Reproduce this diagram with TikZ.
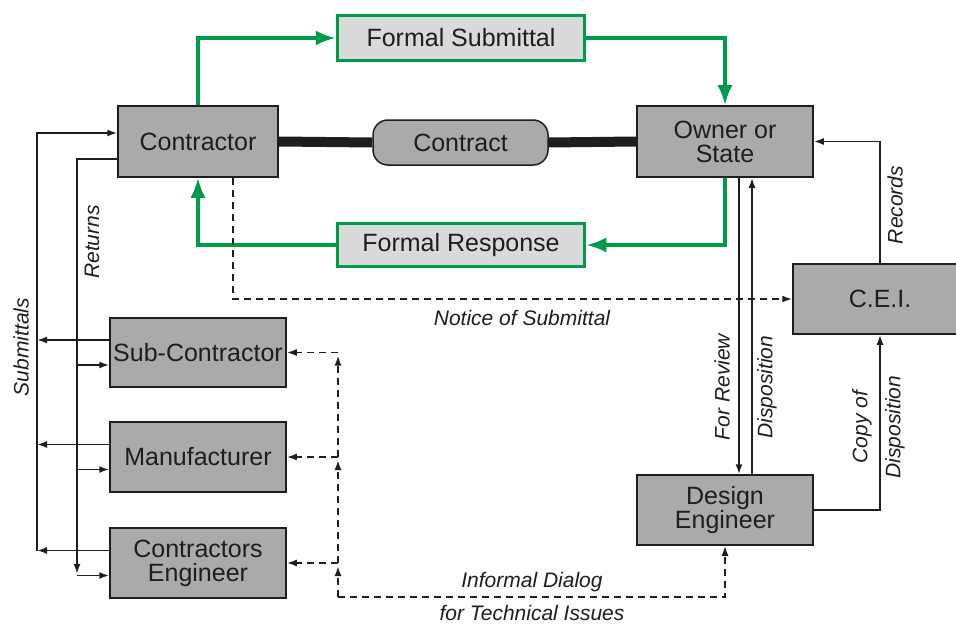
\documentclass[tikz,border=0pt]{standalone}
\usepackage{fontspec}
\setmainfont{Liberation Sans}
\usetikzlibrary{arrows.meta}
\definecolor{boxgray}{RGB}{170,170,170}
\definecolor{lightgray2}{RGB}{218,218,218}
\definecolor{grn}{RGB}{0,155,72}
\definecolor{ink}{RGB}{30,30,30}
\tikzset{
  box/.style={draw=ink, line width=1.5pt, fill=boxgray, inner sep=0pt, align=center,
    font=\fontsize{25}{24}\selectfont, text=ink},
  fbox/.style={draw=grn, line width=3.5pt, fill=lightgray2, inner sep=0pt, align=center,
    font=\fontsize{25}{24}\selectfont, text=ink},
  lab/.style={font=\itshape\fontsize{21}{26}\selectfont, text=ink, inner sep=0pt},
  conn/.style={draw=ink, line width=1.9pt, -{Latex[length=10pt,width=7pt]}},
  dconn/.style={conn, dash pattern=on 7pt off 5pt},
  gconn/.style={draw=grn, line width=3.5pt, -{Latex[length=20pt,width=15pt]}},
}
\begin{document}
\begin{tikzpicture}[x=1pt,y=-1pt]
\useasboundingbox (0,0) rectangle (956,626);
\clip (0,0) rectangle (956,626);
\fill[white] (0,0) rectangle (956,626);

% nodes
\node[box, minimum width=160pt, minimum height=71pt] (contr) at (198,141.5) {Contractor};
\node[box, minimum width=176pt, minimum height=71pt] (owner) at (725,141.5) {Owner or\\State};
\node[fbox, minimum width=247pt, minimum height=45pt] (fs) at (461,38) {Formal Submittal};
\node[fbox, minimum width=247pt, minimum height=43pt] (fr) at (461,245) {Formal Response};
\node[box, rounded corners=15pt, minimum width=175pt, minimum height=45pt] (contract) at (460.5,142.5) {Contract};
\node[box, minimum width=174pt, minimum height=70pt] (cei) at (880,299) {C.E.I.};
\node[box, minimum width=176pt, minimum height=70pt] (de) at (725,510) {Design\\Engineer};
\node[box, minimum width=176pt, minimum height=69pt] (sub) at (198,352.5) {Sub-Contractor};
\node[box, minimum width=176pt, minimum height=70pt] (man) at (198,457) {Manufacturer};
\node[box, minimum width=176pt, minimum height=70pt] (ce) at (198,563) {Contractors\\Engineer};

% contract line
\draw[ink, line width=10pt] (contr.east) -- (contract.west);
\draw[ink, line width=10pt] (contract.east) -- (owner.west);

% green formal flow
\draw[gconn] (contr.north) |- (fs.west);
\draw[gconn] (fs.east) -| (owner.north);
\draw[gconn] (owner.south) |- (fr.east);
\draw[gconn] (fr.west) -| (contr.south);

% notice of submittal
\draw[dconn] ([xshift=35pt]contr.south) |- (cei.west);

% owner <-> design engineer
\draw[conn] ([xshift=14pt]owner.south) -- ([xshift=14pt]de.north);
\draw[conn] ([xshift=27pt]de.north) -- ([xshift=27pt]owner.south);

% records and copy of disposition
\draw[conn] (cei.north) |- (owner.east);
\draw[conn] (de.east) -| (cei.south);

% submittals (left bus)
\coordinate (sx) at (37,133);
\coordinate (rx) at (77,159);
\draw[conn] ([yshift=12.5pt]sub.west) -- ([yshift=12.5pt]sub.west -| sx);
\draw[conn] ([yshift=12.5pt]man.west) -- ([yshift=12.5pt]man.west -| sx);
\draw[conn] ([yshift=12.5pt]ce.west) -- ([yshift=12.5pt]ce.west -| sx);
\draw[conn] ([yshift=12.5pt]ce.west -| sx) |- ([yshift=8.5pt]contr.west);

% returns
\draw[conn] ([yshift=-17.5pt]contr.west) -| ([yshift=-11pt]ce.west -| rx);
\draw[conn] ([yshift=-12.5pt]ce.west -| rx) -- ([yshift=-12.5pt]ce.west);
\draw[conn] ([yshift=-12.5pt]sub.west -| rx) -- ([yshift=-12.5pt]sub.west);
\draw[conn] ([yshift=-12.5pt]man.west -| rx) -- ([yshift=-12.5pt]man.west);

% informal dialog
\coordinate (dj) at (338,597);
\draw[dconn] (dj) -| (de.south);
\draw[dconn] (dj) -- ([yshift=-3pt]dj |- ce.east);
\draw[dconn] (dj |- ce.east) -- ([yshift=-3pt]dj |- man.east);
\draw[dconn] (dj |- man.east) -- ([yshift=-3pt]dj |- sub.east);
\draw[dconn] (dj |- sub.east) -- (sub.east);
\draw[dconn] (dj |- man.east) -- (man.east);
\draw[dconn] (dj |- ce.east) -- (ce.east);

% labels
\node[lab, rotate=90] (lsub) at (21,347) {Submittals};
\node[lab, rotate=90] (lret) at (92,242) {Returns};
\node[lab] (lnot) at (522,318) {Notice of Submittal};
\node[lab, rotate=90] (lrev) at (722,387) {For Review};
\node[lab, rotate=90] (ldis) at (767,387) {Disposition};
\node[lab, rotate=90] (lrec) at (895,205) {Records};
\node[lab, rotate=90, align=center, font=\itshape\fontsize{21}{33}\selectfont] (lcopy) at (878.5,427) {Copy of\\Disposition};
\node[lab] (linf1) at (532,582) {Informal Dialog};
\node[lab] (linf2) at (532,613) {for Technical Issues};
\end{tikzpicture}
\end{document}
